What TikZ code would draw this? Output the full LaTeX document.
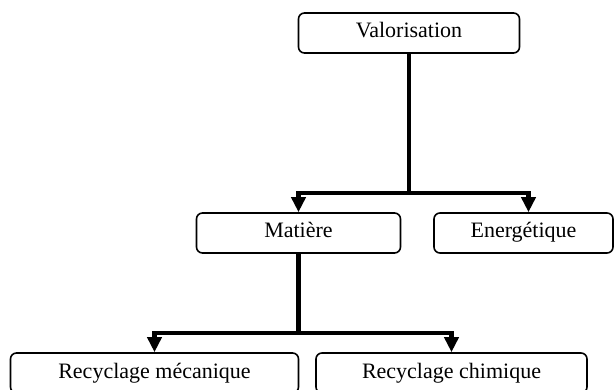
\documentclass[tikz,border=0pt]{standalone}
\usepackage{fontspec}
\setmainfont{Liberation Serif}
\usetikzlibrary{arrows.meta}
\tikzstyle{box}=[draw, line width=1.6pt, rounded corners=6pt, inner sep=0pt, minimum height=40pt, text height=15pt, text depth=5pt, font=\fontsize{22}{26}\selectfont]
\tikzstyle{link}=[line width=4.5pt, line join=miter]
\tikzstyle{arrowlink}=[link, -{Triangle[width=14pt,length=15pt]}]

\begin{document}
\begin{tikzpicture}[x=1pt, y=-1pt]
        \useasboundingbox (0, 0) rectangle (616, 390);
        \node[box, minimum width=221pt] (val) at (409, 33) {Valorisation};
        \node[box, minimum width=204pt] (mat) at (298.5, 233) {Matière};
        \node[box, minimum width=179pt] (ener) at (523.5, 233) {Energétique};
        \node[box, minimum width=288pt] (meca) at (154.5, 373) {Recyclage mécanique};
        \node[box, minimum width=271pt] (chim) at (451.5, 373) {Recyclage chimique};
        % top level
        \coordinate (j1) at (val.south |- 0, 193);
        \draw[link] (val.south) -- (j1);
        \draw[arrowlink] (j1) -| (mat.north);
        \draw[arrowlink] (j1) -| ([xshift=5pt]ener.north);
        % matiere
        \coordinate (j2) at (mat.south |- 0, 333);
        \draw[link] (mat.south) -- (j2);
        \draw[arrowlink] (j2) -| (meca.north);
        \draw[arrowlink] (j2) -| (chim.north);
    \end{tikzpicture}
\end{document}
